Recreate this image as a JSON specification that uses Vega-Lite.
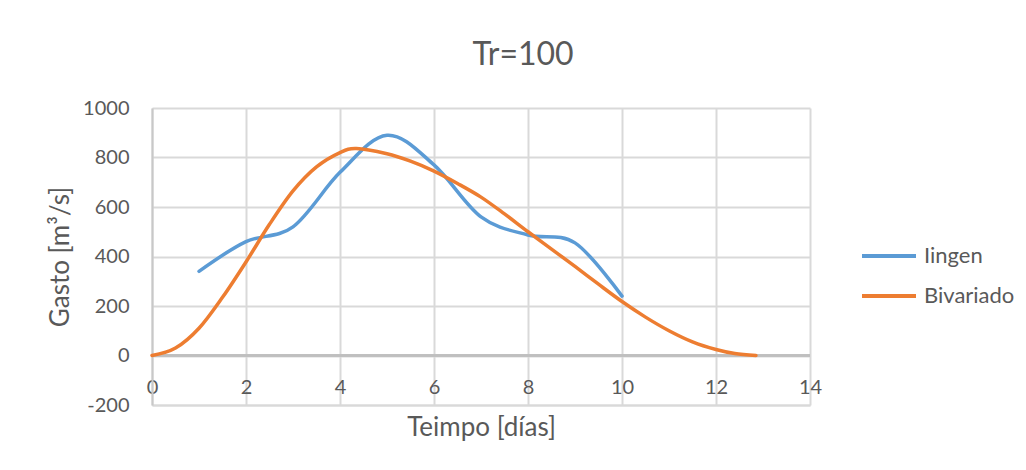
{
  "$schema": "https://vega.github.io/schema/vega-lite/v6.json",
  "autosize": {"type": "none"},
  "width": 658,
  "height": 297,
  "padding": {"left": 152, "top": 108, "right": 216, "bottom": 65},
  "background": "white",
  "config": {
    "font": "Lato",
    "view": {"stroke": null},
    "axis": {"labelColor": "#595959", "titleColor": "#595959", "labelFont": "Lato", "titleFont": "Lato", "titleFontWeight": "normal"},
    "legend": {"labelColor": "#595959", "labelFont": "Lato"}
  },
  "title": {
    "text": "Tr=100",
    "fontSize": 32,
    "fontWeight": "normal",
    "font": "Lato",
    "color": "#595959",
    "anchor": "middle",
    "dx": 42,
    "dy": -22
  },
  "data": {
    "values": [
      {"serie": "Iingen", "dias": 1, "gasto": 340},
      {"serie": "Iingen", "dias": 2, "gasto": 460},
      {"serie": "Iingen", "dias": 3, "gasto": 520},
      {"serie": "Iingen", "dias": 4, "gasto": 740},
      {"serie": "Iingen", "dias": 5, "gasto": 890},
      {"serie": "Iingen", "dias": 6, "gasto": 770},
      {"serie": "Iingen", "dias": 7, "gasto": 560},
      {"serie": "Iingen", "dias": 8, "gasto": 487},
      {"serie": "Iingen", "dias": 9, "gasto": 455},
      {"serie": "Iingen", "dias": 10, "gasto": 240},
      {"serie": "Bivariado", "dias": 0, "gasto": 0},
      {"serie": "Bivariado", "dias": 0.5, "gasto": 30},
      {"serie": "Bivariado", "dias": 1, "gasto": 110},
      {"serie": "Bivariado", "dias": 1.5, "gasto": 235},
      {"serie": "Bivariado", "dias": 2, "gasto": 378},
      {"serie": "Bivariado", "dias": 2.5, "gasto": 530},
      {"serie": "Bivariado", "dias": 3, "gasto": 665},
      {"serie": "Bivariado", "dias": 3.5, "gasto": 762},
      {"serie": "Bivariado", "dias": 4, "gasto": 820},
      {"serie": "Bivariado", "dias": 4.35, "gasto": 836},
      {"serie": "Bivariado", "dias": 5, "gasto": 815},
      {"serie": "Bivariado", "dias": 5.5, "gasto": 785},
      {"serie": "Bivariado", "dias": 6, "gasto": 745},
      {"serie": "Bivariado", "dias": 6.5, "gasto": 695},
      {"serie": "Bivariado", "dias": 7, "gasto": 640},
      {"serie": "Bivariado", "dias": 7.5, "gasto": 572},
      {"serie": "Bivariado", "dias": 8, "gasto": 500},
      {"serie": "Bivariado", "dias": 8.5, "gasto": 430},
      {"serie": "Bivariado", "dias": 9, "gasto": 360},
      {"serie": "Bivariado", "dias": 9.5, "gasto": 288},
      {"serie": "Bivariado", "dias": 10, "gasto": 218},
      {"serie": "Bivariado", "dias": 10.5, "gasto": 155},
      {"serie": "Bivariado", "dias": 11, "gasto": 100},
      {"serie": "Bivariado", "dias": 11.5, "gasto": 55},
      {"serie": "Bivariado", "dias": 12, "gasto": 24},
      {"serie": "Bivariado", "dias": 12.4, "gasto": 8},
      {"serie": "Bivariado", "dias": 12.85, "gasto": 0}
    ]
  },
  "layer": [
    {
      "mark": {"type": "rule", "color": "#bfbfbf", "strokeWidth": 2},
      "encoding": {"y": {"datum": 0, "type": "quantitative"}}
    },
    {
      "mark": {"type": "line", "interpolate": "cardinal", "strokeWidth": 3.5, "strokeCap": "round"},
      "encoding": {
        "x": {
          "field": "dias",
          "type": "quantitative",
          "scale": {"domain": [0, 14], "nice": false},
          "axis": {
            "title": "Teimpo [días]",
            "titleFontSize": 26,
            "titleY": 22,
            "titleBaseline": "middle",
            "values": [0, 2, 4, 6, 8, 10, 12, 14],
            "labelExpr": "'' + datum.value",
            "labelFontSize": 20,
            "labelBaseline": "middle",
            "labelPadding": -18,
            "labelFlush": false,
            "ticks": false,
            "domainColor": "#d9d9d9",
            "domainWidth": 2,
            "grid": true,
            "gridColor": "#d9d9d9",
            "gridWidth": 2
          }
        },
        "y": {
          "field": "gasto",
          "type": "quantitative",
          "scale": {"domain": [-200, 1000], "nice": false},
          "axis": {
            "title": "Gasto [m³/s]",
            "titleFontSize": 26,
            "titleAngle": -90,
            "titleX": -92,
            "titleY": 148.5,
            "titleAlign": "center",
            "titleBaseline": "middle",
            "values": [-200, 0, 200, 400, 600, 800, 1000],
            "labelExpr": "'' + datum.value",
            "labelFontSize": 20,
            "labelPadding": 23,
            "ticks": false,
            "domainColor": "#c8c8c8",
            "domainWidth": 2,
            "grid": true,
            "gridColor": "#d9d9d9",
            "gridWidth": 2
          }
        },
        "color": {
          "field": "serie",
          "type": "nominal",
          "scale": {"domain": ["Iingen", "Bivariado"], "range": ["#5B9BD5", "#ED7D31"]},
          "legend": {
            "title": null,
            "orient": "none",
            "legendX": 708,
            "legendY": 119,
            "symbolType": "stroke",
            "symbolSize": 2916,
            "symbolStrokeWidth": 4,
            "labelFontSize": 22,
            "labelOffset": 6,
            "rowPadding": -9
          }
        }
      }
    }
  ]
}
